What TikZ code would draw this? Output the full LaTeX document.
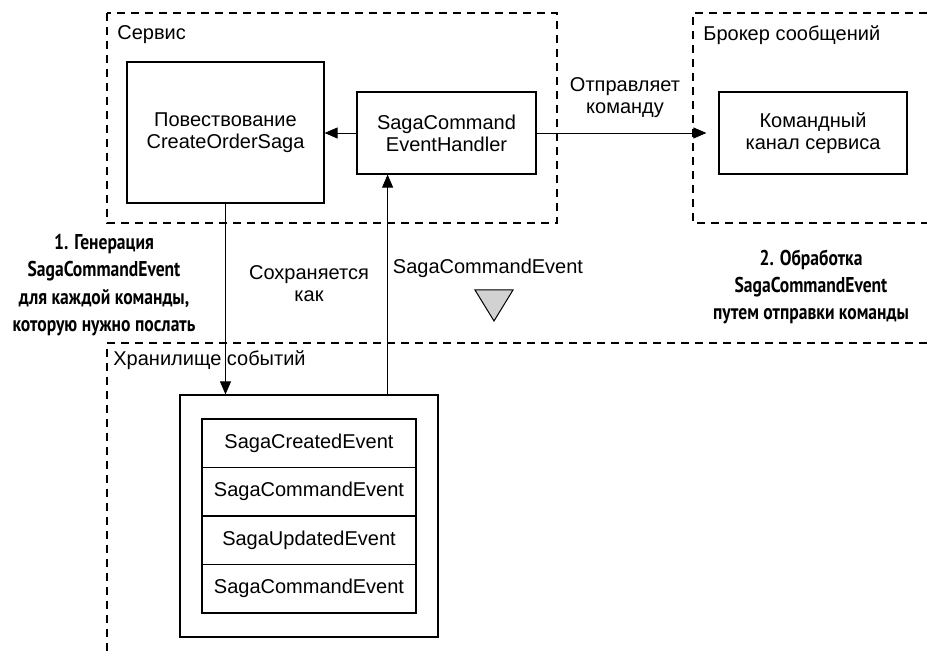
\documentclass[tikz,border=0pt]{standalone}
\usepackage{fontspec}
\setmainfont{Liberation Sans}
\newfontfamily\notefont[FakeStretch=0.82]{PT Sans}
\usetikzlibrary{arrows.meta,calc}
\tikzset{
  box/.style={draw,line width=0.6pt,align=center,inner sep=0pt},
  frame/.style={line width=0.6pt,dash pattern=on 4pt off 3pt},
  lbl/.style={align=center,inner sep=0pt},
  note/.style={align=center,inner sep=0pt,font=\notefont\bfseries\fontsize{10.7}{13.6}\selectfont},
  >={Triangle[length=6.5pt,width=5.5pt]}
}
\begin{document}
\begin{tikzpicture}[x=0.5pt,y=-0.5pt,font=\fontsize{10}{11}\selectfont]
\useasboundingbox[fill=white](0,0)rectangle(927,657);
% dashed frames
\draw[frame](107,13)rectangle(557,223);
\draw[frame](927,13)-|(693,223)--(927,223);
\draw[frame](927,343)-|(107,657);
\node[lbl,anchor=west](srv)at(117,35){Сервис};
\node[lbl,anchor=west](brk)at(703,35){Брокер сообщений};
\node[lbl,anchor=west](evs)at(113,360){Хранилище событий};
% boxes
\node[box,minimum width=98.5pt,minimum height=70.5pt](saga)at(225.5,132.5){Повествование\\CreateOrderSaga};
\node[box,minimum width=89.5pt,minimum height=41pt](hnd)at(446.5,133){SagaCommand\\EventHandler};
\node[box,minimum width=94pt,minimum height=41pt](chn)at(813,133){Командный\\канал сервиса};
\node[box,minimum width=129pt,minimum height=121pt](store)at(309,516){};
\foreach \ev [count=\i] in {SagaCreatedEvent,SagaCommandEvent,SagaUpdatedEvent,SagaCommandEvent}
  \node[box,minimum width=107pt,minimum height=24.25pt](ev\i)at(309,{419+48.5*(\i-0.5)}){\ev};
% connectors
\draw[->](hnd.west)--(hnd.west-|saga.east);
\draw[->](hnd.east)--([xshift=-6pt]chn.west);
\draw[->](saga.south)--(saga.south|-store.north);
\draw[->]([xshift=-25.5pt]store.north east)--([xshift=-25.5pt]store.north east|-hnd.south);
\node[lbl](send)at(625,98){Отправляет\\команду};
\node[lbl](save)at(309,284){Сохраняется\\как};
\node[lbl](sce)at(488,268){SagaCommandEvent};
\draw[line width=0.5pt,fill=gray!35](475,290)--(513,290)--(494,321)--cycle;
% notes
\node[note](n1)at(104,285){1. Генерация\\SagaCommandEvent\\для каждой команды,\\которую нужно послать};
\node[note](n2)at(811,287){2. Обработка\\SagaCommandEvent\\путем отправки команды};
\end{tikzpicture}
\end{document}
